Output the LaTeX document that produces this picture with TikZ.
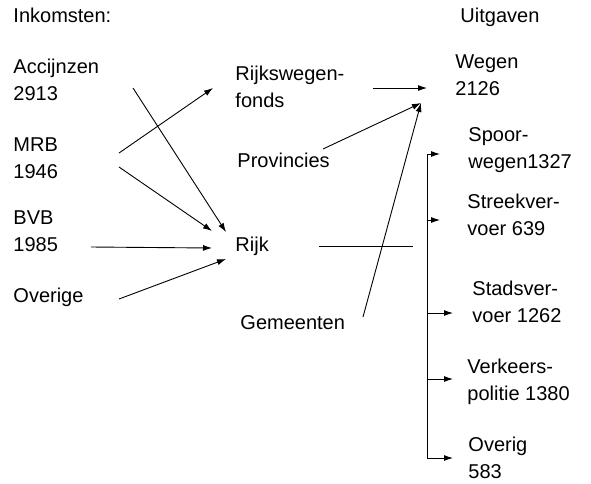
\documentclass[tikz,border=0pt]{standalone}
\usepackage{fontspec}
\setmainfont{Liberation Sans}
\usetikzlibrary{arrows.meta}

\begin{document}
\begin{tikzpicture}[
			x=1pt, y=-1pt,
			lbl/.style={anchor=base west, inner sep=0pt, align=left, font=\fontsize{20}{27}\selectfont},
			arr/.style={-{Latex[length=9pt,width=6pt]}},
			every path/.style={line width=0.9pt}
			]
			\useasboundingbox (0,0) rectangle (591,483);
			% Inkomsten (base = last line)
			\node[lbl] (ink) at (13,22) {Inkomsten:};
			\node[lbl] (acc) at (13,100) {Accijnzen\\2913};
			\node[lbl] (mrb) at (13,178) {MRB\\1946};
			\node[lbl] (bvb) at (13,251) {BVB\\1985};
			\node[lbl] (ove) at (13,302) {Overige};
			% tussenstations
			\node[lbl] (rwf) at (235,107) {Rijkswegen-\\fonds};
			\node[lbl] (prov) at (237,167) {Provincies};
			\node[lbl] (rijk) at (235,251) {Rijk};
			\node[lbl] (gem) at (240,329) {Gemeenten};
			% Uitgaven
			\node[lbl] (uit) at (460,22) {Uitgaven};
			\node[lbl] (weg) at (455,95) {Wegen\\2126};
			\node[lbl] (spo) at (468,168) {Spoor-\\wegen1327};
			\node[lbl] (str) at (467,235) {Streekver-\\voer 639};
			\node[lbl] (sta) at (472,322) {Stadsver-\\voer 1262};
			\node[lbl] (ver) at (467,400) {Verkeers-\\politie 1380};
			\node[lbl] (ovg) at (468,478) {Overig\\583};

			\draw[arr] ([shift={(120,-12)}]acc.base west) -- ([shift={(-9,-19)}]rijk.base west);
			\draw[arr] ([shift={(106,-25)}]mrb.base west) -- ([shift={(-22,-19)}]rwf.base west);
			\draw[arr] ([shift={(106,-11)}]mrb.base west) -- ([shift={(-23,-20)}]rijk.base west);
			\draw[arr] ([shift={(78,-4)}]bvb.base west) -- ([shift={(-23,-3)}]rijk.base west);
			\draw[arr] ([shift={(106,-3)}]ove.base west) -- ([shift={(-9,8)}]rijk.base west);
			\draw[arr] ([shift={(138,-19)}]rwf.base west) -- ([shift={(-28,-7)}]weg.base west);
			\draw[arr] ([shift={(86,-18)}]prov.base west) -- ([shift={(-34,8)}]weg.base west);
			\draw[arr] ([shift={(123,-12)}]gem.base west) -- ([shift={(-34,8)}]weg.base west);
			\draw ([shift={(84,-5)}]rijk.base west) -- ([shift={(178,-5)}]rijk.base west);

			% verdeling over de uitgaven
			\coordinate (bus) at ([shift={(-41,-14)}]spo.base west);
			\draw[arr] (bus) |- ([shift={(-15,-20)}]ovg.base west);
			\foreach \n/\dy/\len in {spo/-14/13, str/-15/13, sta/-9/26, ver/-21/26}
				\draw[arr] (bus |- \n.base west) ++(0,\dy) -- ++(\len,0);
		\end{tikzpicture}
\end{document}
